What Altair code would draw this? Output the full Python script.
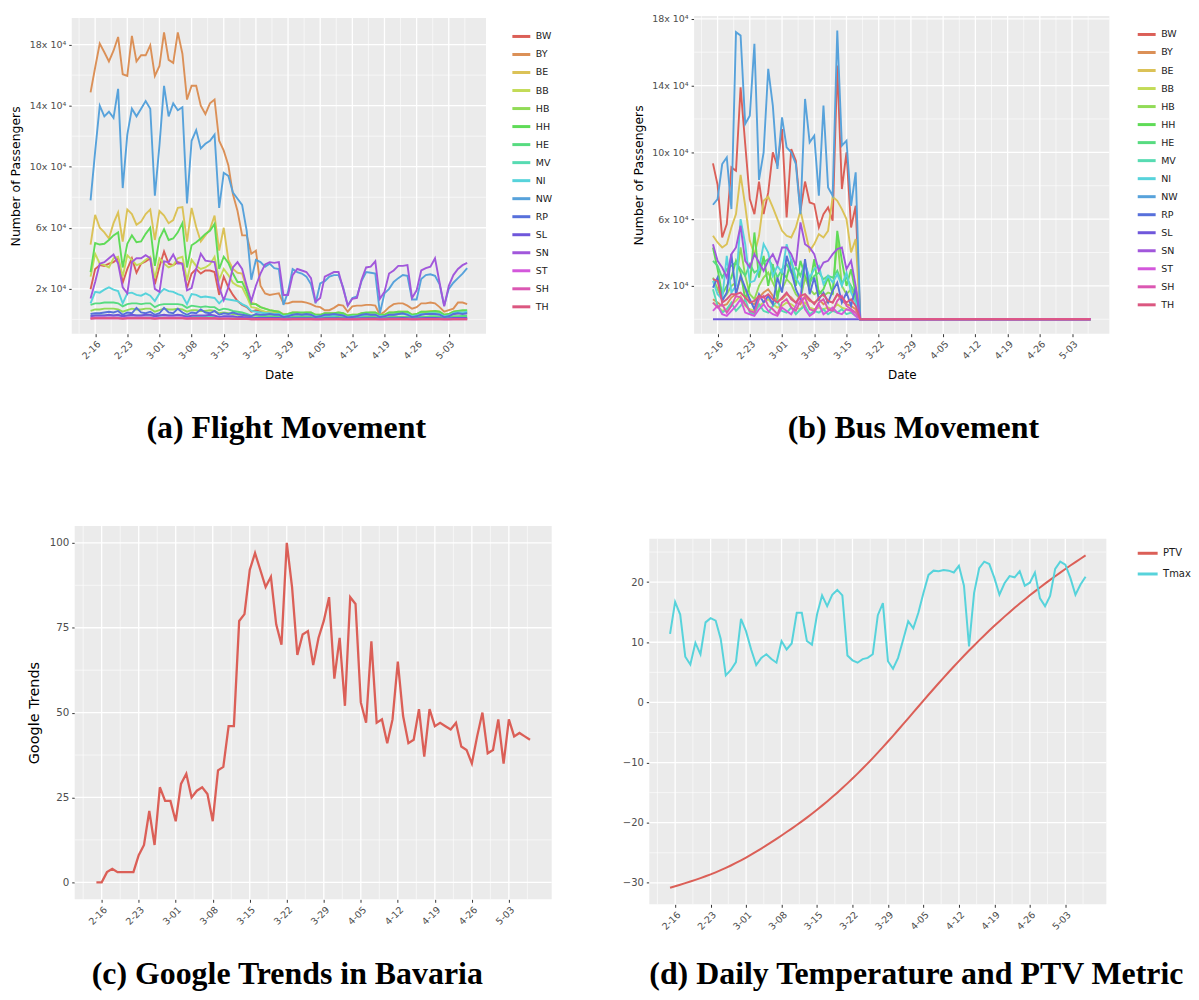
import colorsys
import pandas as pd
import altair as alt

# ---------------- categories ----------------
STATES = ["BW", "BY", "BE", "BB", "HB", "HH", "HE", "MV",
          "NI", "NW", "RP", "SL", "SN", "ST", "SH", "TH"]
FIRST_DAY = "2020-02-15"
N_DAYS = 83
FIRST_TICK = "2020-02-16"
N_TICKS = 12

# ---------------- (a) flight passengers, units of 10^4 ----------------
FLIGHT_BW = [1.97, 3.3, 3.55, 3.5, 3.65, 3.75, 4.0,
             2.4, 3.3, 4.0, 3.05, 3.65, 3.8, 4.0,
             2.3, 3.45, 4.45, 3.65, 3.55, 3.75, 3.65,
             2.05, 3.0, 3.3, 3.0, 3.2, 3.2, 3.1,
             1.6, 2.8, 2.1, 1.6, 1.2, 0.95, 0.8,
             0.5, 0.6, 0.55, 0.45, 0.45, 0.4, 0.4,
             0.2, 0.25, 0.35, 0.3, 0.3, 0.3, 0.3,
             0.15, 0.2, 0.3, 0.3, 0.3, 0.3, 0.25,
             0.15, 0.15, 0.2, 0.3, 0.3, 0.3, 0.3,
             0.15, 0.2, 0.3, 0.3, 0.35, 0.35, 0.35,
             0.2, 0.25, 0.35, 0.35, 0.4, 0.35, 0.35,
             0.2, 0.25, 0.35, 0.4, 0.4, 0.4]
FLIGHT_BY = [14.87, 16.5, 18.07, 17.5, 16.9, 17.6, 18.5,
             16.06, 15.95, 18.57, 16.9, 17.3, 17.3, 17.95,
             15.95, 16.6, 18.8, 17.0, 16.8, 18.8, 17.4,
             14.4, 15.3, 15.3, 14.0, 13.45, 14.15, 14.4,
             11.7, 11.05, 10.1, 8.2, 7.1, 5.5, 5.5,
             4.3, 4.5, 2.2, 1.7, 1.6, 1.65, 1.7,
             1.05, 1.05, 1.15, 1.15, 1.15, 1.1, 1.0,
             0.85, 0.8, 0.6, 0.6, 0.75, 0.95, 0.9,
             0.5, 0.85, 0.9, 0.9, 0.95, 0.95, 0.9,
             0.3, 0.5, 0.8, 1.0, 1.05, 1.05, 0.9,
             0.7, 0.8, 1.05, 1.05, 1.1, 1.05, 0.8,
             0.5, 0.6, 0.7, 1.1, 1.1, 1.0]
FLIGHT_BE = [4.9, 6.85, 6.0, 5.7, 5.3, 6.3, 7.0,
             5.1, 7.2, 6.9, 6.2, 6.4, 6.9, 7.2,
             5.2, 7.1, 6.8, 6.3, 6.5, 7.3, 7.35,
             5.1, 7.3, 6.05, 5.1, 5.5, 5.9, 6.8,
             4.5, 6.0, 3.9, 3.3, 3.05, 3.0, 2.0,
             1.1, 1.0, 0.8, 0.7, 0.6, 0.55, 0.5,
             0.35, 0.35, 0.45, 0.45, 0.4, 0.45, 0.45,
             0.3, 0.3, 0.4, 0.4, 0.4, 0.45, 0.4,
             0.25, 0.3, 0.3, 0.4, 0.4, 0.45, 0.45,
             0.3, 0.3, 0.45, 0.45, 0.5, 0.5, 0.5,
             0.3, 0.35, 0.5, 0.5, 0.55, 0.55, 0.5,
             0.3, 0.35, 0.5, 0.55, 0.55, 0.55]
FLIGHT_BB = [2.8, 4.3, 3.65, 3.55, 3.4, 4.0, 4.1,
             2.8, 4.2, 3.9, 3.55, 3.65, 3.9, 4.1,
             2.7, 4.0, 3.65, 3.4, 3.55, 4.0, 4.1,
             2.55, 3.9, 3.5, 3.3, 3.4, 3.6, 4.1,
             2.6, 3.3, 2.9, 2.4, 2.2, 2.1, 1.5,
             0.8, 0.75, 0.6, 0.5, 0.45, 0.4, 0.4,
             0.25, 0.25, 0.35, 0.35, 0.3, 0.35, 0.35,
             0.2, 0.25, 0.3, 0.3, 0.3, 0.35, 0.3,
             0.2, 0.2, 0.25, 0.3, 0.3, 0.35, 0.35,
             0.2, 0.25, 0.35, 0.35, 0.4, 0.4, 0.4,
             0.25, 0.3, 0.4, 0.4, 0.45, 0.45, 0.4,
             0.25, 0.3, 0.45, 0.5, 0.5, 0.5]
FLIGHT_HB = [0.55, 0.65, 0.65, 0.7, 0.7, 0.7, 0.65,
             0.5, 0.6, 0.7, 0.65, 0.65, 0.7, 0.7,
             0.5, 0.6, 0.7, 0.65, 0.65, 0.7, 0.65,
             0.5, 0.6, 0.6, 0.55, 0.55, 0.6, 0.55,
             0.4, 0.45, 0.4, 0.35, 0.3, 0.3, 0.2,
             0.12, 0.12, 0.1, 0.1, 0.1, 0.1, 0.1,
             0.05, 0.05, 0.08, 0.08, 0.08, 0.08, 0.08,
             0.05, 0.05, 0.08, 0.08, 0.08, 0.08, 0.06,
             0.04, 0.05, 0.05, 0.08, 0.08, 0.08, 0.08,
             0.05, 0.05, 0.08, 0.08, 0.1, 0.1, 0.1,
             0.05, 0.06, 0.1, 0.1, 0.1, 0.1, 0.1,
             0.05, 0.06, 0.1, 0.12, 0.12, 0.12]
FLIGHT_HH = [3.1, 5.0, 4.9, 4.95, 5.2, 5.5, 5.7,
             3.4, 4.95, 5.5, 5.05, 5.1, 5.6, 6.0,
             3.5, 5.3, 5.9, 5.2, 5.3, 5.7, 6.3,
             3.4, 4.85, 5.05, 5.3, 5.6, 5.8, 6.25,
             3.3, 4.1, 3.7, 3.0, 2.45, 2.45, 1.8,
             1.0, 1.0, 0.8, 0.7, 0.6, 0.55, 0.5,
             0.3, 0.35, 0.45, 0.45, 0.45, 0.45, 0.45,
             0.3, 0.3, 0.4, 0.4, 0.4, 0.45, 0.4,
             0.25, 0.3, 0.3, 0.4, 0.45, 0.45, 0.45,
             0.3, 0.3, 0.45, 0.45, 0.5, 0.5, 0.5,
             0.3, 0.35, 0.5, 0.5, 0.5, 0.55, 0.5,
             0.3, 0.35, 0.5, 0.55, 0.6, 0.6]
FLIGHT_HE = [0.95, 1.05, 1.05, 1.1, 1.1, 1.1, 1.05,
             0.85, 1.0, 1.05, 1.05, 1.0, 1.05, 1.05,
             0.8, 0.95, 1.0, 1.0, 1.0, 1.0, 0.95,
             0.75, 0.9, 0.85, 0.8, 0.85, 0.8, 0.8,
             0.6, 0.7, 0.65, 0.55, 0.5, 0.45, 0.35,
             0.25, 0.25, 0.2, 0.2, 0.2, 0.2, 0.2,
             0.1, 0.12, 0.15, 0.15, 0.15, 0.15, 0.15,
             0.1, 0.1, 0.15, 0.15, 0.15, 0.15, 0.12,
             0.08, 0.1, 0.1, 0.15, 0.15, 0.15, 0.15,
             0.1, 0.1, 0.15, 0.15, 0.18, 0.18, 0.18,
             0.1, 0.12, 0.18, 0.18, 0.2, 0.2, 0.18,
             0.1, 0.12, 0.2, 0.2, 0.22, 0.22]
FLIGHT_MV = [0.2, 0.25, 0.25, 0.25, 0.25, 0.25, 0.25,
             0.2, 0.25, 0.25, 0.25, 0.25, 0.25, 0.25,
             0.2, 0.25, 0.25, 0.25, 0.25, 0.25, 0.25,
             0.2, 0.22, 0.22, 0.2, 0.2, 0.2, 0.2,
             0.15, 0.18, 0.15, 0.12, 0.1, 0.1, 0.08,
             0.05, 0.05, 0.05, 0.05, 0.05, 0.05, 0.05,
             0.03, 0.03, 0.04, 0.04, 0.04, 0.04, 0.04,
             0.03, 0.03, 0.04, 0.04, 0.04, 0.04, 0.03,
             0.02, 0.03, 0.03, 0.04, 0.04, 0.04, 0.04,
             0.03, 0.03, 0.04, 0.04, 0.05, 0.05, 0.05,
             0.03, 0.04, 0.05, 0.05, 0.05, 0.05, 0.05,
             0.03, 0.04, 0.05, 0.06, 0.06, 0.06]
FLIGHT_NI = [1.05, 1.8, 1.75, 1.95, 2.1, 1.95, 1.85,
             1.05, 1.7, 1.75, 1.6, 1.55, 1.7, 1.55,
             1.2, 1.7, 2.0, 1.85, 1.8, 1.65, 1.55,
             1.0, 1.65, 1.6, 1.45, 1.5, 1.45, 1.4,
             1.05, 1.35, 1.3, 1.25, 1.2, 1.0, 0.85,
             0.55, 0.5, 0.45, 0.4, 0.4, 0.35, 0.35,
             0.2, 0.25, 0.3, 0.3, 0.3, 0.3, 0.3,
             0.2, 0.2, 0.25, 0.25, 0.25, 0.3, 0.25,
             0.15, 0.2, 0.2, 0.25, 0.3, 0.3, 0.3,
             0.2, 0.2, 0.3, 0.3, 0.35, 0.35, 0.35,
             0.2, 0.25, 0.35, 0.35, 0.4, 0.4, 0.35,
             0.2, 0.25, 0.4, 0.45, 0.45, 0.5]
FLIGHT_NW = [7.8, 11.0, 14.0, 13.3, 13.6, 13.2, 15.1,
             8.6, 12.1, 13.8, 13.3, 13.8, 14.3, 13.8,
             8.1, 11.4, 15.3, 13.3, 14.15, 13.7, 13.9,
             7.6, 11.7, 12.4, 11.2, 11.5, 11.7, 12.1,
             7.3, 9.6, 9.4, 8.3, 7.9, 7.5, 5.8,
             2.6, 3.9, 3.75, 3.45, 3.65, 3.35, 3.3,
             0.95, 1.8, 3.3, 3.1, 3.0, 2.8, 2.3,
             1.05, 2.35, 2.5, 2.8, 2.9, 2.9, 2.1,
             0.9, 1.4, 1.5, 2.5, 3.1, 3.05, 3.0,
             0.4, 1.7, 2.0, 2.45, 2.7, 2.9, 2.85,
             1.3, 1.3, 2.65, 2.9, 2.95, 2.85, 2.3,
             0.9, 2.0, 2.4, 2.7, 3.0, 3.35]
FLIGHT_RP = [0.35, 0.4, 0.4, 0.45, 0.5, 0.45, 0.55,
             0.3, 0.45, 0.4, 0.75, 0.45, 0.4, 0.5,
             0.3, 0.4, 0.75, 0.45, 0.4, 0.7, 0.45,
             0.3, 0.45, 0.4, 0.65, 0.45, 0.4, 0.55,
             0.3, 0.4, 0.35, 0.45, 0.35, 0.3, 0.25,
             0.2, 0.35, 0.3, 0.3, 0.35, 0.3, 0.3,
             0.15, 0.2, 0.3, 0.35, 0.3, 0.35, 0.3,
             0.15, 0.2, 0.3, 0.3, 0.35, 0.3, 0.25,
             0.12, 0.15, 0.2, 0.3, 0.35, 0.3, 0.3,
             0.15, 0.2, 0.3, 0.3, 0.35, 0.4, 0.3,
             0.15, 0.2, 0.3, 0.35, 0.35, 0.35, 0.3,
             0.15, 0.2, 0.35, 0.4, 0.35, 0.4]
FLIGHT_SL = [0.2, 0.25, 0.25, 0.25, 0.3, 0.25, 0.3,
             0.2, 0.25, 0.3, 0.25, 0.25, 0.3, 0.3,
             0.2, 0.25, 0.3, 0.25, 0.25, 0.3, 0.25,
             0.15, 0.25, 0.25, 0.25, 0.25, 0.3, 0.25,
             0.15, 0.2, 0.2, 0.2, 0.15, 0.15, 0.12,
             0.08, 0.1, 0.1, 0.1, 0.1, 0.1, 0.1,
             0.05, 0.06, 0.08, 0.08, 0.08, 0.08, 0.08,
             0.05, 0.05, 0.08, 0.08, 0.08, 0.08, 0.06,
             0.04, 0.05, 0.05, 0.08, 0.08, 0.08, 0.08,
             0.05, 0.05, 0.08, 0.08, 0.08, 0.1, 0.08,
             0.05, 0.06, 0.08, 0.1, 0.1, 0.1, 0.08,
             0.05, 0.06, 0.1, 0.1, 0.1, 0.1]
FLIGHT_SN = [1.37, 2.45, 3.65, 3.75, 4.0, 4.25, 3.65,
             2.1, 1.7, 3.75, 4.0, 4.0, 4.2, 4.0,
             2.0, 1.8, 3.8, 3.75, 4.25, 3.65, 3.65,
             1.9, 2.05, 3.3, 4.3, 3.85, 3.8, 3.75,
             2.1, 1.25, 2.1, 3.4, 3.75, 3.3, 2.2,
             1.2, 2.2, 3.0, 3.6, 3.75, 3.7, 3.75,
             1.6, 1.6, 2.9, 3.3, 3.2, 3.1, 2.7,
             1.15, 1.4, 2.8, 2.95, 3.1, 3.1, 2.0,
             0.9, 1.35, 1.4, 2.6, 3.4, 3.45, 3.8,
             1.35, 1.8, 3.0, 3.2, 3.5, 3.5, 3.55,
             1.4, 1.9, 3.2, 3.35, 3.45, 4.0, 2.4,
             0.85, 2.2, 2.9, 3.3, 3.55, 3.7]
FLIGHT_ST = [0.1, 0.12, 0.12, 0.12, 0.12, 0.12, 0.12,
             0.08, 0.12, 0.12, 0.12, 0.12, 0.12, 0.12,
             0.08, 0.1, 0.12, 0.12, 0.12, 0.12, 0.12,
             0.08, 0.1, 0.1, 0.1, 0.1, 0.1, 0.1,
             0.06, 0.08, 0.08, 0.06, 0.05, 0.05, 0.04,
             0.02, 0.02, 0.02, 0.02, 0.02, 0.02, 0.02,
             0.01, 0.01, 0.02, 0.02, 0.02, 0.02, 0.02,
             0.01, 0.01, 0.02, 0.02, 0.02, 0.02, 0.01,
             0.01, 0.01, 0.01, 0.02, 0.02, 0.02, 0.02,
             0.01, 0.01, 0.02, 0.02, 0.02, 0.02, 0.02,
             0.01, 0.01, 0.02, 0.02, 0.02, 0.02, 0.02,
             0.01, 0.01, 0.02, 0.02, 0.02, 0.02]
FLIGHT_SH = [0.04, 0.05, 0.05, 0.05, 0.05, 0.05, 0.05,
             0.03, 0.05, 0.05, 0.05, 0.05, 0.05, 0.05,
             0.03, 0.05, 0.05, 0.05, 0.05, 0.05, 0.05,
             0.03, 0.04, 0.04, 0.04, 0.04, 0.04, 0.04,
             0.03, 0.03, 0.03, 0.03, 0.02, 0.02, 0.02,
             0.01, 0.01, 0.01, 0.01, 0.01, 0.01, 0.01,
             0.0, 0.0, 0.01, 0.01, 0.01, 0.01, 0.01,
             0.0, 0.0, 0.01, 0.01, 0.01, 0.01, 0.01,
             0.0, 0.0, 0.0, 0.01, 0.01, 0.01, 0.01,
             0.0, 0.0, 0.01, 0.01, 0.01, 0.01, 0.01,
             0.0, 0.0, 0.01, 0.01, 0.01, 0.01, 0.01,
             0.0, 0.0, 0.01, 0.01, 0.01, 0.01]
FLIGHT_TH = [0.06, 0.08, 0.08, 0.08, 0.08, 0.08, 0.08,
             0.05, 0.08, 0.08, 0.08, 0.08, 0.08, 0.08,
             0.05, 0.08, 0.08, 0.08, 0.08, 0.08, 0.08,
             0.05, 0.07, 0.07, 0.07, 0.07, 0.07, 0.07,
             0.04, 0.05, 0.05, 0.04, 0.04, 0.03, 0.03,
             0.01, 0.01, 0.01, 0.01, 0.01, 0.01, 0.01,
             0.0, 0.0, 0.01, 0.01, 0.01, 0.01, 0.01,
             0.0, 0.0, 0.01, 0.01, 0.01, 0.01, 0.01,
             0.0, 0.0, 0.0, 0.01, 0.01, 0.01, 0.01,
             0.0, 0.0, 0.01, 0.01, 0.01, 0.01, 0.01,
             0.0, 0.0, 0.01, 0.01, 0.01, 0.01, 0.01,
             0.0, 0.0, 0.01, 0.01, 0.01, 0.01]

# ---------------- (b) bus passengers, units of 10^4 (Feb 15 - Mar 17) ----------------
BUS_BW = [9.34, 8.05, 4.9, 5.7, 9.1, 8.9, 13.9, 10.5, 7.2, 6.3, 8.25, 6.3, 7.6, 10.0, 9.2, 11.4,
          6.1, 10.2, 9.5, 6.5, 8.25, 7.0, 6.9, 5.5, 6.3, 6.7, 5.9, 15.2, 7.8, 10.0, 5.5, 6.8]
BUS_BY = [1.2, 1.0, 0.8, 0.9, 1.3, 1.5, 2.5, 1.8, 1.0, 0.9, 1.3, 1.6, 1.8, 1.4, 1.1, 1.2,
          1.5, 1.3, 1.0, 0.9, 1.4, 1.1, 1.0, 1.2, 0.9, 1.1, 1.0, 1.5, 1.1, 0.9, 0.8, 0.6]
BUS_BE = [5.0, 4.6, 4.3, 4.5, 5.5, 6.3, 8.65, 6.8, 4.7, 3.9, 5.0, 7.1, 7.35, 6.7, 6.0, 5.3,
          5.0, 4.9, 5.5, 6.5, 5.3, 4.1, 4.5, 5.1, 4.9, 5.3, 7.35, 7.1, 6.6, 6.0, 4.0, 4.8]
BUS_BB = [1.0, 0.8, 0.5, 0.6, 0.9, 1.1, 1.4, 0.8, 0.6, 0.5, 0.8, 1.0, 1.2, 0.9, 0.7, 0.8,
          1.0, 0.9, 0.7, 0.6, 1.0, 0.7, 0.6, 0.7, 0.6, 0.7, 0.6, 0.9, 0.7, 0.6, 0.5, 0.4]
BUS_HB = [2.5, 1.8, 1.2, 1.5, 2.0, 2.2, 4.3, 2.6, 1.5, 1.2, 2.0, 2.5, 2.8, 2.2, 1.6, 1.8,
          2.4, 2.1, 1.5, 1.2, 2.5, 1.8, 1.5, 1.7, 1.4, 1.6, 1.5, 4.8, 2.0, 1.5, 1.8, 1.2]
BUS_HH = [4.3, 3.0, 1.5, 2.0, 2.5, 3.5, 2.8, 1.2, 2.0, 5.2, 2.5, 3.8, 2.0, 3.3, 1.2, 2.8,
          2.5, 3.6, 2.0, 3.5, 2.6, 2.0, 3.6, 1.5, 1.8, 2.5, 1.5, 5.3, 3.5, 2.0, 3.0, 1.5]
BUS_HE = [3.5, 3.2, 2.5, 3.0, 3.2, 3.4, 3.0, 2.6, 3.3, 2.8, 3.0, 3.4, 3.6, 3.2, 2.5, 3.0,
          3.3, 2.8, 3.1, 2.6, 3.4, 2.2, 2.6, 2.8, 2.4, 2.6, 2.5, 2.9, 2.2, 2.5, 2.0, 1.5]
BUS_MV = [1.8, 0.8, 0.4, 0.6, 1.0, 0.5, 0.8, 1.2, 0.4, 0.3, 0.9, 0.5, 0.4, 0.8, 1.1, 0.5,
          0.4, 0.7, 0.3, 0.6, 0.8, 0.3, 0.5, 0.4, 0.6, 0.3, 0.5, 0.4, 0.6, 0.3, 0.4, 0.2]
BUS_NI = [2.3, 1.5, 1.2, 3.8, 1.6, 2.0, 6.0, 4.5, 2.2, 2.3, 3.0, 4.5, 4.0, 2.6, 3.2, 2.8,
          4.5, 3.5, 2.5, 2.0, 3.3, 2.5, 3.0, 3.2, 2.1, 2.6, 2.2, 2.7, 2.0, 2.8, 1.6, 1.0]
BUS_NW = [6.86, 7.2, 9.3, 9.7, 6.6, 17.2, 17.0, 11.7, 12.2, 16.5, 8.35, 10.0, 15.0, 12.8, 9.0, 12.1,
          10.3, 10.0, 9.3, 6.3, 13.2, 10.6, 11.0, 7.4, 12.8, 7.9, 7.4, 17.3, 10.4, 10.7, 6.8, 8.8]
BUS_RP = [1.9, 2.5, 1.1, 1.6, 3.9, 1.5, 2.6, 1.9, 1.2, 0.6, 1.5, 1.0, 1.4, 0.9, 2.5, 1.6,
          3.8, 2.9, 1.8, 1.2, 3.6, 1.5, 2.5, 1.2, 1.6, 1.0, 1.7, 2.2, 1.0, 1.6, 0.8, 1.9]
BUS_SL = [0.0, 0.0, 0.0, 0.0, 0.0, 0.0, 0.0, 0.0, 0.0, 0.0, 0.0, 0.0, 0.0, 0.0, 0.0, 0.0,
          0.0, 0.0, 0.0, 0.0, 0.0, 0.0, 0.0, 0.0, 0.0, 0.0, 0.0, 0.0, 0.0, 0.0, 0.0, 0.0]
BUS_SN = [4.5, 3.5, 3.1, 2.5, 3.9, 4.3, 5.6, 3.5, 3.1, 3.9, 3.4, 2.9, 3.5, 3.9, 3.3, 4.3,
          4.3, 3.9, 3.2, 5.8, 4.5, 4.3, 3.9, 2.9, 3.4, 3.5, 3.9, 4.2, 4.3, 3.0, 3.5, 2.0]
BUS_ST = [0.5, 0.8, 0.3, 0.2, 0.5, 0.8, 1.2, 0.4, 0.3, 0.2, 0.6, 0.9, 0.5, 0.3, 0.2, 0.7,
          0.5, 0.3, 0.8, 1.5, 0.6, 0.2, 0.4, 0.9, 0.3, 0.5, 0.7, 0.4, 0.3, 0.6, 0.5, 0.2]
BUS_SH = [1.0, 0.7, 0.9, 0.4, 0.8, 1.4, 1.3, 0.9, 0.5, 0.4, 1.2, 1.4, 0.8, 0.6, 0.3, 1.0,
          1.2, 0.7, 0.5, 1.1, 1.3, 0.6, 0.5, 1.0, 1.2, 0.6, 0.5, 1.1, 1.4, 0.8, 0.6, 0.4]
BUS_TH = [2.4, 2.3, 1.0, 1.2, 1.5, 1.5, 1.6, 1.3, 1.0, 1.1, 1.4, 1.3, 1.5, 1.2, 1.0, 1.3,
          1.6, 1.2, 1.0, 1.4, 1.5, 1.2, 0.9, 1.3, 1.5, 1.1, 1.0, 1.5, 1.3, 1.0, 1.2, 0.8]
# every bus line is flat at zero from 3-18 to 5-07 (51 days)
BUS_STOPPED = [0.0, 0.0, 0.0, 0.0, 0.0, 0.0, 0.0, 0.0, 0.0, 0.0, 0.0, 0.0, 0.0, 0.0, 0.0, 0.0, 0.0,
               0.0, 0.0, 0.0, 0.0, 0.0, 0.0, 0.0, 0.0, 0.0, 0.0, 0.0, 0.0, 0.0, 0.0, 0.0, 0.0, 0.0,
               0.0, 0.0, 0.0, 0.0, 0.0, 0.0, 0.0, 0.0, 0.0, 0.0, 0.0, 0.0, 0.0, 0.0, 0.0, 0.0, 0.0]

# ---------------- (c) Google Trends in Bavaria ----------------
TRENDS = [0, 0, 3, 4, 3, 3, 3, 3, 8, 11,
          21, 11, 28, 24, 24, 18, 29, 32, 25, 27,
          28, 26, 18, 33, 34, 46, 46, 77, 79, 92,
          97, 92, 87, 90, 76, 70, 100, 87, 67, 73,
          74, 64, 72, 77, 84, 60, 72, 52, 84, 82,
          53, 47, 71, 47, 48, 41, 48, 65, 49, 41,
          42, 51, 37, 51, 46, 47, 46, 45, 47, 40,
          39, 35, 43, 50, 38, 39, 48, 35, 48, 43,
          44, 43, 42]

# ---------------- (d) daily temperature and PTV ----------------
TMAX = [11.4, 16.7, 14.6, 7.6, 6.3, 9.9, 8.0, 13.3, 14.0, 13.6,
        10.55, 4.5, 5.4, 6.7, 13.9, 11.8, 8.8, 6.2, 7.4, 8.0,
        7.2, 6.6, 10.2, 8.8, 9.8, 14.9, 14.9, 10.2, 9.6, 14.6,
        17.8, 16.0, 17.9, 18.7, 17.8, 7.8, 7.0, 6.6, 7.2, 7.4,
        8.0, 14.5, 16.5, 6.85, 5.6, 7.4, 10.4, 13.5, 12.3, 14.9,
        18.2, 21.2, 21.9, 21.8, 22.0, 21.9, 21.6, 22.7, 19.4, 9.3,
        18.2, 22.3, 23.4, 23.0, 20.7, 17.9, 19.8, 21.0, 20.8, 21.8,
        19.4, 19.9, 21.6, 17.3, 16.0, 17.7, 22.2, 23.4, 22.9, 20.7,
        17.9, 19.6, 20.9]
PTV = [-30.8, -30.56, -30.31, -30.05, -29.78, -29.5, -29.21, -28.91, -28.6, -28.25,
       -27.89, -27.51, -27.11, -26.69, -26.25, -25.79, -25.31, -24.81, -24.3, -23.78,
       -23.24, -22.69, -22.12, -21.55, -20.98, -20.39, -19.78, -19.15, -18.5, -17.84,
       -17.16, -16.46, -15.74, -15.0, -14.24, -13.46, -12.66, -11.84, -11.0, -10.14,
       -9.26, -8.36, -7.44, -6.5, -5.55, -4.59, -3.62, -2.64, -1.66, -0.68,
       0.3, 1.27, 2.23, 3.18, 4.12, 5.05, 5.97, 6.87, 7.75, 8.62,
       9.47, 10.31, 11.13, 11.94, 12.73, 13.5, 14.26, 15.0, 15.72, 16.43,
       17.12, 17.8, 18.46, 19.11, 19.75, 20.37, 20.98, 21.58, 22.17, 22.75,
       23.32, 23.88, 24.43]

FLIGHT = [FLIGHT_BW, FLIGHT_BY, FLIGHT_BE, FLIGHT_BB, FLIGHT_HB, FLIGHT_HH, FLIGHT_HE, FLIGHT_MV,
          FLIGHT_NI, FLIGHT_NW, FLIGHT_RP, FLIGHT_SL, FLIGHT_SN, FLIGHT_ST, FLIGHT_SH, FLIGHT_TH]
BUS = [BUS_BW, BUS_BY, BUS_BE, BUS_BB, BUS_HB, BUS_HH, BUS_HE, BUS_MV,
       BUS_NI, BUS_NW, BUS_RP, BUS_SL, BUS_SN, BUS_ST, BUS_SH, BUS_TH]
for s in FLIGHT:
    assert len(s) == N_DAYS, len(s)
for s in BUS:
    assert len(s) + len(BUS_STOPPED) == N_DAYS, len(s)
assert len(TRENDS) == N_DAYS and len(TMAX) == N_DAYS and len(PTV) == N_DAYS

# ---------------- helpers ----------------
DATES = pd.date_range(FIRST_DAY, periods=N_DAYS, freq="D")
TICKS = pd.date_range(FIRST_TICK, periods=N_TICKS, freq="7D")
MINOR = pd.date_range(pd.Timestamp(FIRST_TICK) - pd.Timedelta(hours=84), periods=N_TICKS + 1, freq="7D")
XPAD = pd.Timedelta(days=0.05 * (N_DAYS - 1))
X_LO, X_HI = DATES[0] - XPAD, DATES[-1] + XPAD


def dt(ts):
    return alt.DateTime(year=int(ts.year), month=int(ts.month), date=int(ts.day),
                        hours=int(ts.hour), minutes=int(ts.minute))


def hue_colors(n):
    out = []
    for k in range(n):
        r, g, b = colorsys.hls_to_rgb((0.01 + k / n) % 1.0, 0.6, 0.65)
        out.append("#%02x%02x%02x" % (round(r * 255), round(g * 255), round(b * 255)))
    return out


def padded(lo, hi):
    d = (hi - lo) * 0.05
    return lo - d, hi + d


GRAY_TXT = "#4D4D4D"
TICK_COL = "#333333"


def x_axis(title):
    kw = dict(values=[dt(t) for t in TICKS], format="%-m-%d", labelAngle=-45,
              labelAlign="right", labelBaseline="top", labelFontSize=9.5,
              labelColor=GRAY_TXT, labelPadding=2, labelOverlap=False, labelFlush=False,
              tickSize=3, tickColor=TICK_COL, tickWidth=1, domain=False, grid=False,
              title=title, titleFontSize=12, titleFontWeight="normal", titleColor="black",
              titlePadding=9)
    return alt.Axis(**kw)


def panel(lines, color, y_lo, y_hi, y_major, y_minor, y_axis, x_title,
          x0, plot_w, view_w, plot_top, view_h, caption, line_w):
    xs = alt.Scale(domain=[dt(X_LO), dt(X_HI)], range=[x0, x0 + plot_w], nice=False)
    ys = alt.Scale(domain=[y_lo, y_hi], range=[view_h, plot_top], nice=False, zero=False)
    X = alt.X("date:T", scale=xs, axis=x_axis(x_title))
    Y = alt.Y("val:Q", scale=ys, axis=y_axis)

    bg = pd.DataFrame({"date": [X_LO], "date2": [X_HI], "val": [y_lo], "val2": [y_hi]})
    rect = alt.Chart(bg).mark_rect(color="#EBEBEB").encode(
        x=X, x2=alt.X2("date2"), y=Y, y2=alt.Y2("val2"))

    def vrules(dates, w):
        d = pd.DataFrame({"date": list(dates), "val": y_lo, "val2": y_hi})
        return alt.Chart(d).mark_rule(color="white", strokeWidth=w).encode(
            x=X, y=Y, y2=alt.Y2("val2"))

    def hrules(vals, w):
        d = pd.DataFrame({"val": list(vals), "date": X_LO, "date2": X_HI})
        return alt.Chart(d).mark_rule(color="white", strokeWidth=w).encode(
            y=Y, x=X, x2=alt.X2("date2"))

    line = alt.Chart(lines).mark_line(strokeWidth=line_w).encode(x=X, y=Y, color=color)
    return alt.layer(rect, vrules(MINOR, 0.6), hrules(y_minor, 0.6),
                     vrules(TICKS, 1.3), hrules(y_major, 1.3), line).properties(
        width=view_w, height=view_h, title=caption)


def caption(text, dx, offset):
    return alt.TitleParams(text=text, orient="bottom", anchor="start", frame="group",
                           dx=dx, offset=offset, font="Liberation Serif", fontSize=32,
                           fontWeight="bold", color="black", baseline="alphabetic")


def y_axis(values, title, label_expr=None, offset=0, font_size=9.5, title_size=12.5, title_pad=6.5):
    kw = dict(values=values, labelFontSize=font_size, labelColor=GRAY_TXT, labelPadding=3,
              labelOverlap=False, tickSize=3, tickColor=TICK_COL, tickWidth=1,
              domain=False, grid=False, title=title, titleFontSize=title_size,
              titleFontWeight="normal", titleColor="black", titlePadding=title_pad)
    if label_expr:
        kw["labelExpr"] = label_expr
    if offset:
        kw["offset"] = offset
    return alt.Axis(**kw)


def state_legend(lx, ly):
    return alt.Legend(orient="none", legendX=lx, legendY=ly, title=None, symbolType="stroke",
                      symbolSize=324, symbolStrokeWidth=3, labelFontSize=9.5,
                      labelFont="DejaVu Sans", labelColor="#1A1A1A", rowPadding=1.1,
                      padding=0, labelOffset=4)


STATE_COLORS = hue_colors(len(STATES))
E4 = "datum.value + 'x 10\u2074'"
PASS_MAJOR = [2, 6, 10, 14, 18]
PASS_MINOR = [0, 4, 8, 12, 16]

# ---------------- (a) ----------------
rows = []
for st, series in zip(STATES, FLIGHT):
    for d, v in zip(DATES, series):
        rows.append({"date": d, "val": v, "series": st})
flight_df = pd.DataFrame(rows)
lo, hi = padded(0, max(max(s) for s in FLIGHT))
pa = panel(flight_df,
           alt.Color("series:N", scale=alt.Scale(domain=STATES, range=STATE_COLORS),
                     legend=state_legend(441, 10)),
           lo, hi, PASS_MAJOR, PASS_MINOR,
           y_axis(PASS_MAJOR, "Number of Passengers", E4), "Date",
           0, 416, 416, 2, 319, caption("(a) Flight Movement", 75, 58), 1.9)

# ---------------- (b) (view starts at panel-d column; plot shifted right inside it) ----------------
rows = []
for st, series in zip(STATES, BUS):
    for d, v in zip(DATES, series + BUS_STOPPED):
        rows.append({"date": d, "val": v, "series": st})
bus_df = pd.DataFrame(rows)
lo, hi = padded(0, max(max(s) for s in BUS))
pb = panel(bus_df,
           alt.Color("series:N", scale=alt.Scale(domain=STATES, range=STATE_COLORS),
                     legend=state_legend(489, 8)),
           lo, hi, PASS_MAJOR, PASS_MINOR,
           y_axis(PASS_MAJOR, "Number of Passengers", E4, offset=-45), "Date",
           45, 417, 462, 0, 319, caption("(b) Bus Movement", 139, 58), 1.9)

# ---------------- (c) ----------------
trend_df = pd.DataFrame({"date": DATES, "val": TRENDS})
lo, hi = padded(min(TRENDS), max(TRENDS))
pc = panel(trend_df, alt.value(hue_colors(1)[0]),
           lo, hi, [0, 25, 50, 75, 100], [12.5, 37.5, 62.5, 87.5],
           y_axis([0, 25, 50, 75, 100], "Google Trends", offset=-3, font_size=10.3,
                  title_size=14.5, title_pad=8), None,
           3, 479, 482, 0, 375, caption("(c) Google Trends in Bavaria", 20, 58), 2.3)

# ---------------- (d) ----------------
temp_df = pd.concat([pd.DataFrame({"date": DATES, "val": PTV, "series": "PTV"}),
                     pd.DataFrame({"date": DATES, "val": TMAX, "series": "Tmax"})])
lo, hi = padded(min(PTV + TMAX), max(PTV + TMAX))
pdd = panel(temp_df,
            alt.Color("series:N", scale=alt.Scale(domain=["PTV", "Tmax"], range=hue_colors(2)),
                      legend=alt.Legend(orient="none", legendX=489, legendY=16, title=None,
                                        symbolType="stroke", symbolSize=400, symbolStrokeWidth=3,
                                        labelFontSize=10, labelFont="DejaVu Sans",
                                        labelColor="#1A1A1A", rowPadding=2.8, padding=0,
                                        labelOffset=4)),
            lo, hi, [-30, -20, -10, 0, 10, 20], [-25, -15, -5, 5, 15, 25],
            y_axis([-30, -20, -10, 0, 10, 20], None, font_size=10), None,
            0, 459, 459, 13, 380, caption("(d) Daily Temperature and PTV Metric", 0, 53), 2.0)

chart = alt.concat(pa, pb, pc, pdd, columns=2).properties(
    align="each", bounds="flush", spacing={"row": 193, "column": 98},
    padding={"left": 1, "top": 3, "right": 0, "bottom": -1},
).resolve_scale(
    color="independent", x="independent", y="independent"
).configure(font="DejaVu Sans").configure_view(stroke=None)

chart.save("out.html", embed_options={"renderer": "svg", "actions": False})
